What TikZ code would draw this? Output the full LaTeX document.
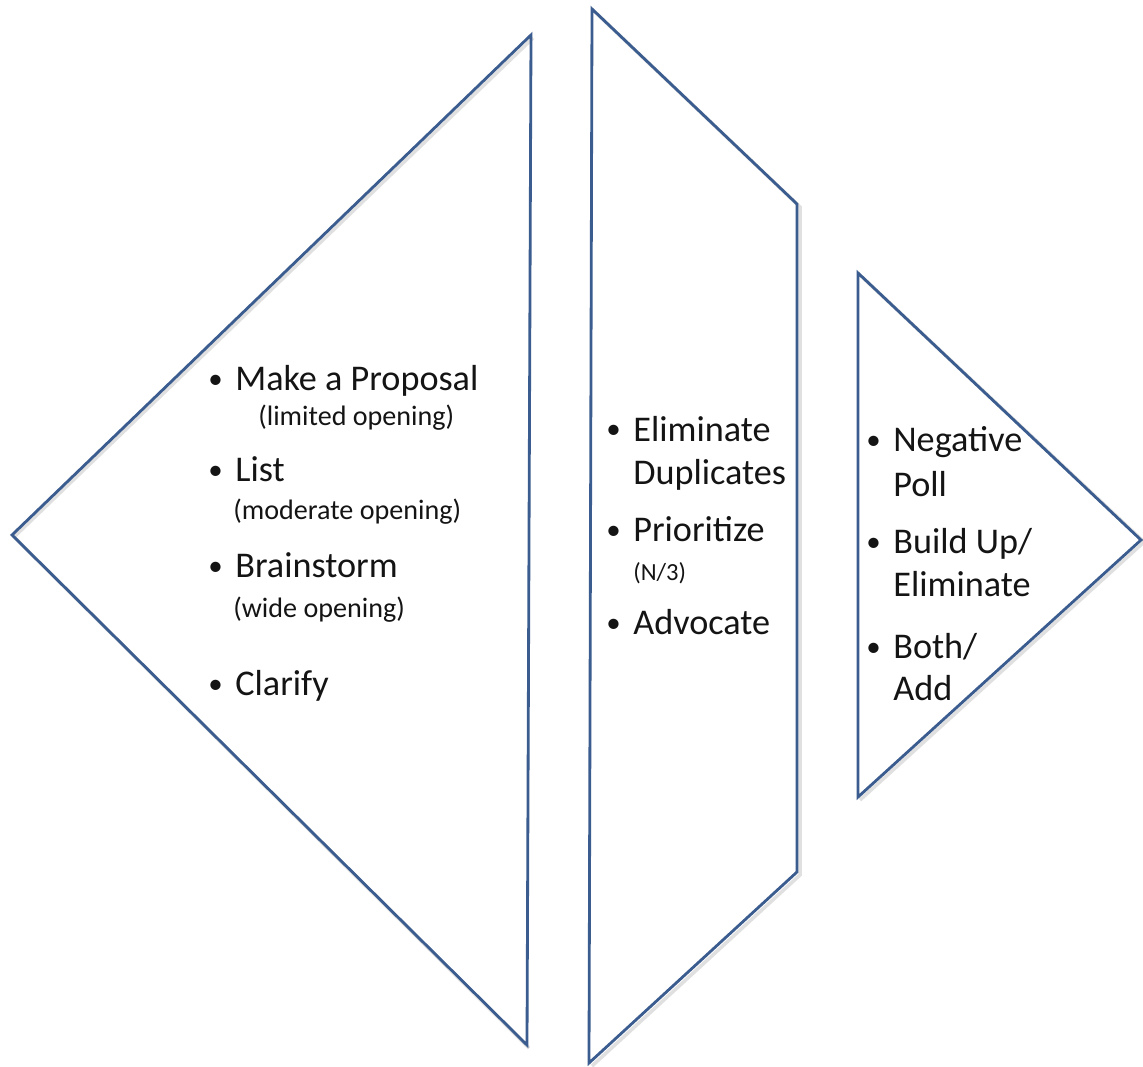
\documentclass[tikz,border=0pt]{standalone}
\usepackage{fontspec}
\setmainfont{Carlito}
\definecolor{outline}{HTML}{3B5C8E}
\newcommand{\bigtxt}{\fontsize{20.6}{25}\selectfont}
\newcommand{\smalltxt}{\fontsize{16}{19}\selectfont}
\newcommand{\itm}[1]{\llap{\raisebox{0.04cm}{\scalebox{0.8}{\textbullet}}\hspace{0.25cm}}#1}
\tikzset{
  panel/.style={draw=outline, line width=1.6pt, line join=miter},
  shade/.style={draw=black!12, line width=2pt},
  item/.style={anchor=base west, inner sep=0pt, font=\bigtxt, text=black!92},
  note/.style={anchor=base west, inner sep=0pt, font=\smalltxt, text=black!92}
}
\begin{document}
\begin{tikzpicture}[x=0.02cm, y=-0.02cm]
    \useasboundingbox (0,0) rectangle (1143,1067);
    % soft shadows
    \draw[shade] (533,38) -- (14,537) -- (529,1048);
    \draw[shade] (595,12) -- (800,207) -- (800,875) -- (592,1066);
    \draw[shade] (861,276) -- (1144,542) -- (860,800);
    % the three panels
    \draw[panel] (531,35) -- (12,535) -- (527,1045) -- cycle;
    \draw[panel] (592,9) -- (797,204) -- (797,872) -- (589,1063) -- cycle;
    \draw[panel] (858,273) -- (1141,540) -- (858,797) -- cycle;
    % left panel
    \node[item] (proposal) at (235,391) {\itm{Make a Proposal}};
    \node[note] (limited) at (258,426) {(limited opening)};
    \node[item] (list) at (235,481) {\itm{List}};
    \node[note] (moderate) at (233,520) {(moderate opening)};
    \node[item] (brainstorm) at (235,577) {\itm{Brainstorm}};
    \node[note] (wide) at (233,617) {(wide opening)};
    \node[item] (clarify) at (235,695) {\itm{Clarify}};
    % middle panel
    \node[item] (eliminate) at (633,441) {\itm{Eliminate}};
    \node[item] (duplicates) at (633,484) {Duplicates};
    \node[item] (prioritize) at (633,541) {\itm{Prioritize}};
    \node[note, font=\fontsize{14}{16}\selectfont] (third) at (633,580) {(N/3)};
    \node[item] (advocate) at (633,634) {\itm{Advocate}};
    % right panel
    \node[item] (negative) at (893,452) {\itm{Negative}};
    \node[item] (poll) at (893,497) {Poll};
    \node[item] (buildup) at (893,553) {\itm{Build Up/}};
    \node[item] (elim) at (893,596) {Eliminate};
    \node[item] (both) at (893,658) {\itm{Both/}};
    \node[item] (add) at (893,700) {Add};
\end{tikzpicture}
\end{document}
